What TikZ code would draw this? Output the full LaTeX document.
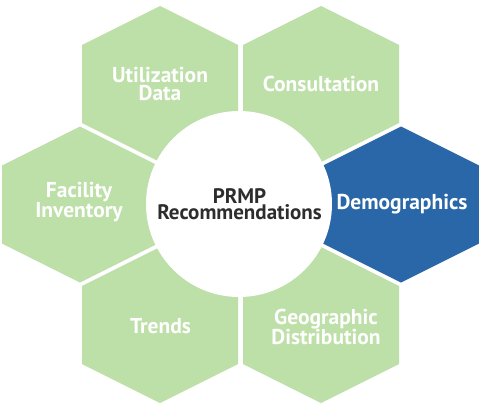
\documentclass[tikz,border=0pt]{standalone}
\usepackage{fontspec}
\setmainfont{PT Sans}
\definecolor{hgreen}{RGB}{189,223,168}
\definecolor{hblue}{RGB}{41,103,168}
\definecolor{ctext}{RGB}{45,45,45}
\tikzset{
  hexa/.pic={\path[pic actions] (0,-78) -- (78,-39) -- (78,39) -- (0,78) -- (-78,39) -- (-78,-39) -- cycle;},
  lbl/.style={text=white, align=center, inner sep=0pt, font=\fontsize{21.5}{18.5}\selectfont\bfseries},
  ctr/.style={text=ctext, align=center, inner sep=0pt, font=\fontsize{21}{16.5}\selectfont\bfseries}
}
\begin{document}
\begin{tikzpicture}[x=1pt,y=-1pt]
\useasboundingbox[fill=white] (0,0) rectangle (479,404);
\pic[fill=hgreen] at (160,84) {hexa};
\pic[fill=hgreen] at (321,84) {hexa};
\pic[fill=hgreen] at (80,204.5) {hexa};
\pic[fill=hblue] at (401,204.5) {hexa};
\pic[fill=hgreen] at (160,325) {hexa};
\pic[fill=hgreen] at (321,325) {hexa};
\node[circle, fill=white, minimum size=186pt, inner sep=0pt] (hub) at (239,204) {};
\node[lbl] (util) at (160,84) {Utilization\\Data};
\node[lbl] (cons) at (321,84) {Consultation};
\node[lbl] (fac) at (79,202) {Facility\\Inventory};
\node[lbl] (demo) at (402,204) {Demographics};
\node[lbl] (trend) at (160.5,326) {Trends};
\node[lbl] (geo) at (326,327) {Geographic\\Distribution};
\node[ctr] (prmp) at (239.5,204) {PRMP\\Recommendations};
\end{tikzpicture}
\end{document}
